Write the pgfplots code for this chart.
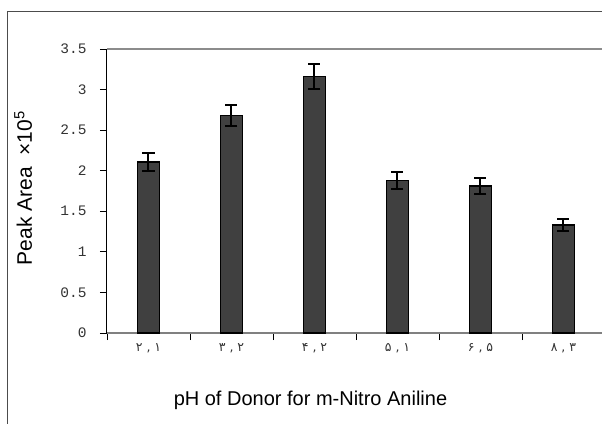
\documentclass[border=0pt]{standalone}
\usepackage{fontspec}
\setmainfont{Liberation Sans}
\newfontfamily\monofont{Liberation Mono}
\newfontfamily\arabicfont{DejaVu Sans}
\usepackage{pgfplots}
\pgfplotsset{compat=1.18}
\TeXXeTstate=1
\newcommand{\ar}[1]{\beginR\beginL #1\endL\endR}
\begin{document}
\begin{tikzpicture}
\useasboundingbox (0pt,0pt) rectangle (602pt,423pt);
\clip (0pt,0pt) rectangle (602pt,423pt);
\draw[color=black!70, line width=1pt] (7pt,-5pt) -- (7pt,411pt) -- (610pt,411pt);
\begin{axis}[
  at={(107pt,90pt)}, anchor=south west,
  scale only axis, width=498pt, height=284pt,
  xmin=-0.5, xmax=5.5, ymin=0, ymax=3.5,
  axis x line*=bottom, axis y line*=left,
  x axis line style={draw=black!50, line width=1.6pt},
  y axis line style={draw=black, line width=1pt},
  tick align=outside,
  major tick length=7pt,
  tick style={black, line width=0.8pt},
  ytick={0,0.5,1,1.5,2,2.5,3,3.5},
  yticklabel style={font=\monofont\fontsize{14.5}{14.5}\selectfont, text=black!80, xshift=-10pt},
  /pgf/number format/assume math mode=true,
  xtick={-0.5,0.5,1.5,2.5,3.5,4.5,5.5},
  xticklabels={},
  extra x ticks={0,1,2,3,4,5},
  extra x tick labels={{\ar{۲ , ۱}},{\ar{۳ , ۲}},{\ar{۴ , ۲}},{\ar{۵ , ۱}},{\ar{۶ , ۵}},{\ar{۸ , ۳}}},
  extra x tick style={major tick length=0pt, xticklabel style={font=\arabicfont\fontsize{12.5}{12.5}\selectfont, text=black!80, yshift=-7pt}},
  xlabel={pH of Donor for m-Nitro Aniline},
  xlabel style={font=\fontsize{20}{22}\selectfont, at={(axis description cs:0.4086,-0.255)}, anchor=base},
  ylabel={Peak Area\ \ ×10\textsuperscript{5}},
  ylabel style={font=\fontsize{21}{23}\selectfont, at={(axis description cs:-0.1506,0.51)}, anchor=base},
  clip=false,
]
\draw[draw=black!45, line width=2pt] (rel axis cs:0,1) -- (rel axis cs:1.02,1);
\addplot[ybar, bar width=22pt, fill=black!75, draw=black, line width=1.5pt,
  error bars/.cd, y dir=both, y explicit,
  error bar style={line width=2pt, black},
  error mark options={rotate=90, mark size=6pt, line width=2pt, black}]
  coordinates {
  (0,2.11) +- (0,0.11)
  (1,2.68) +- (0,0.135)
  (2,3.16) +- (0,0.155)
  (3,1.88) +- (0,0.10)
  (4,1.81) +- (0,0.095)
  (5,1.33) +- (0,0.07)
  };
\end{axis}
\end{tikzpicture}
\end{document}
